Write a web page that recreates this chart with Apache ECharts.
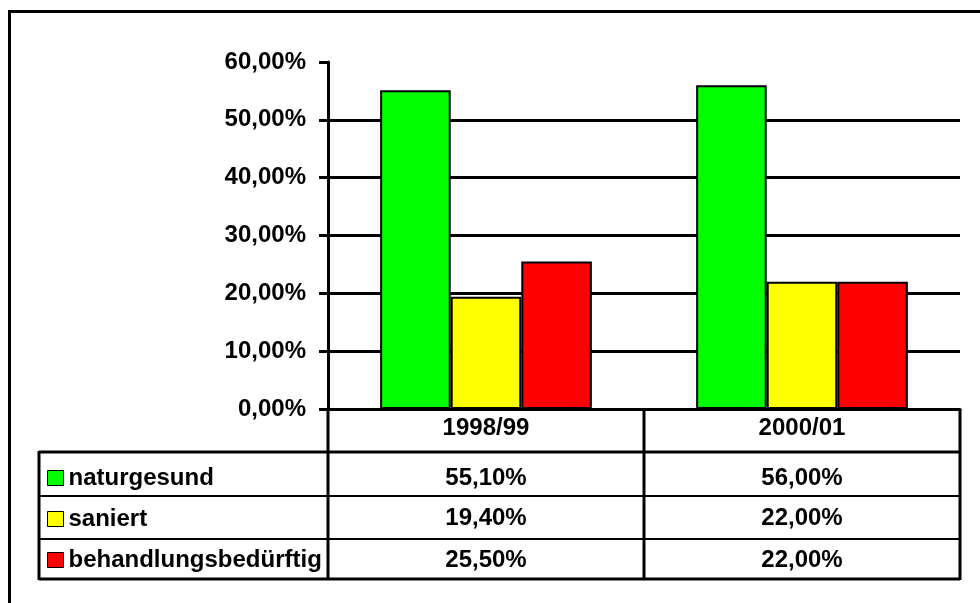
<!DOCTYPE html>
<html>
<head>
<meta charset="utf-8">
<script src="https://cdn.jsdelivr.net/npm/echarts@6/dist/echarts.min.js"></script>
<style>html,body{margin:0;padding:0;background:#fff}#c{width:980px;height:603px}</style>
</head>
<body>
<div id="c"></div>
<script>
var categories = ['1998/99', '2000/01'];
var seriesNames = ['naturgesund', 'saniert', 'behandlungsbedürftig'];
var naturgesund = [55.1, 56.0];
var saniert = [19.4, 22.0];
var behandlungsbeduerftig = [25.5, 22.0];
var colors = ['#00ff00', '#ffff00', '#ff0000'];
var yTicks = [0, 10, 20, 30, 40, 50, 60];

var seriesValues = [naturgesund, saniert, behandlungsbeduerftig];
var FONT = "'Liberation Sans', Arial, sans-serif";
function fmt(v) { return v.toFixed(2).replace('.', ',') + '%'; }

var chart = echarts.init(document.getElementById('c'), null, {renderer: 'canvas'});
var option = {
  animation: false,
  backgroundColor: '#fff',
  grid: {left: 328, right: 20, top: 62, bottom: 194, containLabel: false},
  legend: {
    show: true, orient: 'vertical', left: 47, top: 466, padding: 0,
    itemWidth: 16, itemHeight: 15, itemGap: 17, selectedMode: false,
    icon: 'rect',
    textStyle: {fontFamily: FONT, fontWeight: 'bold', fontSize: 24, color: '#000'},
    data: seriesNames.map(function (n, i) {
      return {name: n, itemStyle: {color: colors[i], borderColor: '#000', borderWidth: 1}};
    })
  },
  xAxis: {
    type: 'category', data: categories,
    axisLine: {show: true, lineStyle: {color: '#000', width: 3}},
    axisTick: {show: false},
    axisLabel: {margin: 7, fontFamily: FONT, fontWeight: 'bold', fontSize: 24, color: '#000'}
  },
  yAxis: {
    type: 'value', min: yTicks[0], max: yTicks[yTicks.length - 1], interval: 10,
    axisLine: {show: true, lineStyle: {color: '#000', width: 3}},
    axisTick: {show: true, length: 9, lineStyle: {color: '#000', width: 3}},
    axisLabel: {margin: 22, fontFamily: FONT, fontWeight: 'bold', fontSize: 24, color: '#000', formatter: fmt},
    splitLine: {show: true, showMaxLine: false, lineStyle: {color: '#000', width: 3}}
  },
  series: seriesNames.map(function (n, i) {
    return {
      name: n, type: 'bar', data: seriesValues[i],
      barGap: '0%', barCategoryGap: '33%',
      itemStyle: {color: colors[i], borderColor: '#000', borderWidth: 2}
    };
  })
};
chart.setOption(option);

// Build the data table from axis geometry
var c0 = chart.convertToPixel({xAxisIndex: 0}, 0);
var c1 = chart.convertToPixel({xAxisIndex: 0}, 1);
var band = c1 - c0;
var y0 = chart.convertToPixel({yAxisIndex: 0}, 0);
var xs = [c0 - band / 2, c0 + band / 2, c1 + band / 2];
var tableLeft = 39;
var rowLines = [452, 496, 539, 579];
var rowCenters = [478, 518, 560];
var g = [];
function line(x1, y1, x2, y2, w) {
  g.push({type: 'line', shape: {x1: x1, y1: y1, x2: x2, y2: y2}, style: {stroke: '#000', lineWidth: w}, z: 100});
}
// outer frame
g.push({type: 'rect', shape: {x: 9.5, y: 11.5, width: 1100, height: 1000}, style: {fill: null, stroke: '#000', lineWidth: 3}, z: 100});
// vertical lines
xs.forEach(function (x) { line(x, y0, x, rowLines[3] + 1, 3); });
line(tableLeft, rowLines[0] - 1, tableLeft, rowLines[3] + 1, 3);
// horizontal lines
line(tableLeft, rowLines[0], xs[2], rowLines[0], 3);
line(tableLeft, rowLines[1], xs[2], rowLines[1], 2);
line(tableLeft, rowLines[2], xs[2], rowLines[2], 2);
line(tableLeft, rowLines[3], xs[2], rowLines[3], 3);
// values
seriesValues.forEach(function (vals, r) {
  vals.forEach(function (v, ci) {
    var cx = chart.convertToPixel({xAxisIndex: 0}, ci);
    g.push({type: 'text', x: cx, y: rowCenters[r], z: 101,
      style: {text: fmt(v), fill: '#000', font: 'bold 24px ' + FONT, align: 'center', verticalAlign: 'middle'}});
  });
});
chart.setOption({graphic: g});
</script>
</body>
</html>
